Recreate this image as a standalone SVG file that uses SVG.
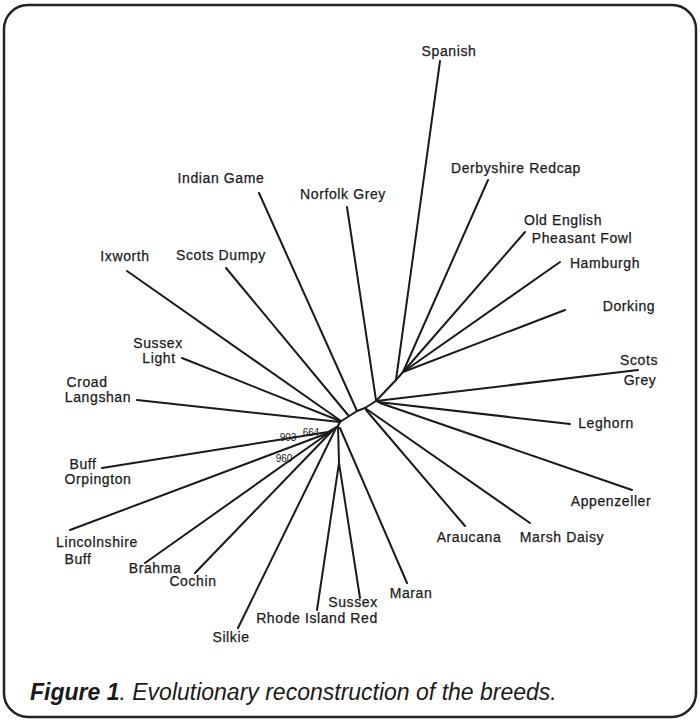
<svg xmlns="http://www.w3.org/2000/svg" width="700" height="722" viewBox="0 0 700 722">
<style>
.e{stroke:#1a1a1a;stroke-width:2;fill:none;stroke-linecap:round;stroke-linejoin:round}
.t{font-family:"Liberation Sans",Arial,sans-serif;font-size:14px;fill:#1a1a1a;stroke:#1a1a1a;stroke-width:0.25;text-anchor:middle;letter-spacing:0.6px}
.b{font-family:"Liberation Sans",Arial,sans-serif;font-size:10px;fill:#1a1a1a;text-anchor:middle}
.c{font-family:"Liberation Sans",Arial,sans-serif;font-size:23px;fill:#1a1a1a;font-style:italic}
</style>
<rect x="4" y="5" width="692" height="712" rx="24" ry="24" fill="#fff" stroke="#222" stroke-width="2.5"/>
<g id="connectors">
<path class="e" d="M338,426 L340,422 L357,411 L365,408 L376,401 L396,380 L403,372"/>
<path class="e" d="M440,61 L396,380"/>
<path class="e" d="M488,180 L403,372"/>
<path class="e" d="M525,232 L403,372"/>
<path class="e" d="M560,262 L403,372"/>
<path class="e" d="M565,310 L403,372"/>
<path class="e" d="M638,370 L376,401"/>
<path class="e" d="M570,424 L378,402"/>
<path class="e" d="M632,490 L380,403"/>
<path class="e" d="M530,523 L365,408"/>
<path class="e" d="M465,526 L366,410"/>
<path class="e" d="M347,207 L376,400"/>
<path class="e" d="M259,193 L357,411"/>
<path class="e" d="M226,268 L348,415"/>
<path class="e" d="M127,271 L341,421"/>
<path class="e" d="M182,358 L340,421"/>
<path class="e" d="M137,400 L340,422"/>
<path class="e" d="M102,468 L328,432"/>
<path class="e" d="M70,530 L328,433"/>
<path class="e" d="M145,563 L330,432"/>
<path class="e" d="M195,573 L333,430"/>
<path class="e" d="M238,628 L336,428"/>
<path class="e" d="M338,426 L339,463 L317,610"/>
<path class="e" d="M339,463 L360,598"/>
<path class="e" d="M407,583 L340,428"/>
<path class="e" d="M338,426 L328,432"/>
</g>
<g id="n-spanish"><text class="t" x="449" y="56">Spanish</text></g>
<g id="n-derbyshire"><text class="t" x="516" y="173">Derbyshire Redcap</text></g>
<g id="n-oldenglish"><text class="t" x="563" y="225">Old English</text><text class="t" x="582" y="243">Pheasant Fowl</text></g>
<g id="n-hamburgh"><text class="t" x="605" y="268">Hamburgh</text></g>
<g id="n-dorking"><text class="t" x="629" y="311">Dorking</text></g>
<g id="n-scotsgrey"><text class="t" x="639" y="365">Scots</text><text class="t" x="640" y="385">Grey</text></g>
<g id="n-leghorn"><text class="t" x="606" y="428">Leghorn</text></g>
<g id="n-appenzeller"><text class="t" x="611" y="506">Appenzeller</text></g>
<g id="n-araucana"><text class="t" x="469" y="542">Araucana</text></g>
<g id="n-marshdaisy"><text class="t" x="562" y="542">Marsh Daisy</text></g>
<g id="n-maran"><text class="t" x="411" y="598">Maran</text></g>
<g id="n-sussex"><text class="t" x="353" y="607">Sussex</text></g>
<g id="n-rhode"><text class="t" x="317" y="623">Rhode Island Red</text></g>
<g id="n-silkie"><text class="t" x="231" y="642">Silkie</text></g>
<g id="n-cochin"><text class="t" x="193" y="586">Cochin</text></g>
<g id="n-brahma"><text class="t" x="155" y="573">Brahma</text></g>
<g id="n-lincolnshire"><text class="t" x="97" y="547">Lincolnshire</text><text class="t" x="78" y="564">Buff</text></g>
<g id="n-buffo"><text class="t" x="83" y="469">Buff</text><text class="t" x="98" y="484">Orpington</text></g>
<g id="n-croad"><text class="t" x="87" y="387">Croad</text><text class="t" x="98" y="402">Langshan</text></g>
<g id="n-sussexlight"><text class="t" x="158" y="348">Sussex</text><text class="t" x="159" y="363">Light</text></g>
<g id="n-ixworth"><text class="t" x="125" y="261">Ixworth</text></g>
<g id="n-scotsdumpy"><text class="t" x="221" y="260">Scots Dumpy</text></g>
<g id="n-indiangame"><text class="t" x="221" y="183">Indian Game</text></g>
<g id="n-norfolk"><text class="t" x="343" y="199">Norfolk Grey</text></g>
<g id="bootstrap"><text class="b" x="311" y="436">664</text><text class="b" x="288" y="441">903</text><text class="b" x="284" y="462">960</text></g>
<g id="caption"><text class="c" x="30" y="700"><tspan font-weight="bold">Figure 1</tspan>. Evolutionary reconstruction of the breeds.</text></g>
</svg>
